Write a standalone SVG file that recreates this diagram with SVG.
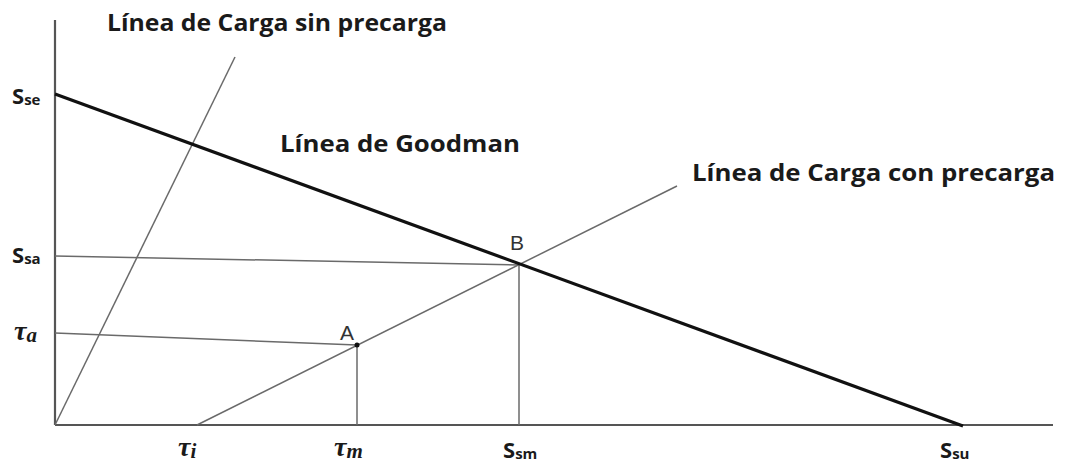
<svg xmlns="http://www.w3.org/2000/svg" width="1067" height="467" viewBox="0 0 1067 467">
<style>
.ax{stroke:#555;stroke-width:2.2;fill:none}
.thin{stroke:#6a6a6a;stroke-width:1.5;fill:none}
.good{stroke:#111;stroke-width:3.2;fill:none}
.lbl{font-family:"Open Sans","Liberation Sans",sans-serif;font-weight:bold;font-size:23px;fill:#1a1a1a}
.pt{font-family:"Liberation Sans",Arial,sans-serif;font-size:21px;fill:#333}
.s{font-family:"Open Sans","Liberation Sans",sans-serif;font-weight:bold;font-size:22px;fill:#1a1a1a}
.sub{font-size:15px}
.tau{font-family:"Liberation Serif","DejaVu Serif",serif;font-style:italic;font-weight:bold;font-size:28px;fill:#1a1a1a}
.tsub{font-size:21px}
</style>
<rect width="1067" height="467" fill="#fff"/>
<g id="axes">
<line class="ax" x1="55" y1="20" x2="55" y2="425"/>
<line class="ax" x1="55" y1="425" x2="1053" y2="425"/>
</g>
<g id="connectors">
<line class="thin" x1="55" y1="425" x2="235" y2="57"/>
<line class="thin" x1="197" y1="425" x2="677" y2="186"/>
<line class="thin" x1="55" y1="256" x2="519" y2="265"/>
<line class="thin" x1="55" y1="333" x2="357" y2="345"/>
<line class="thin" x1="357" y1="345" x2="357" y2="425"/>
<line class="thin" x1="519" y1="265" x2="519" y2="425"/>
<line class="good" x1="55" y1="94" x2="963" y2="426"/>
<circle cx="357" cy="345" r="2.5" fill="#111"/>
</g>
<g id="labels">
<text class="lbl" x="107" y="31" textLength="340" lengthAdjust="spacingAndGlyphs">Línea de Carga sin precarga</text>
<text class="lbl" x="280" y="152" textLength="240" lengthAdjust="spacingAndGlyphs">Línea de Goodman</text>
<text class="lbl" x="692" y="181" textLength="363" lengthAdjust="spacingAndGlyphs">Línea de Carga con precarga</text>
<text class="pt" x="510" y="250">B</text>
<text class="pt" x="340" y="340">A</text>
</g>
<g id="axis-labels">
<text class="s" x="12" y="104">S<tspan class="sub" dy="1">se</tspan></text>
<text class="s" x="12" y="263">S<tspan class="sub" dy="1">sa</tspan></text>
<text class="tau" x="14" y="340">τ<tspan class="tsub" dy="2">a</tspan></text>
<text class="tau" x="178" y="456">τ<tspan class="tsub" dy="2">i</tspan></text>
<text class="tau" x="334" y="456">τ<tspan class="tsub" dy="2">m</tspan></text>
<text class="s" x="503" y="458">S<tspan class="sub" dy="1">sm</tspan></text>
<text class="s" x="940" y="458">S<tspan class="sub" dy="1">su</tspan></text>
</g>
</svg>
